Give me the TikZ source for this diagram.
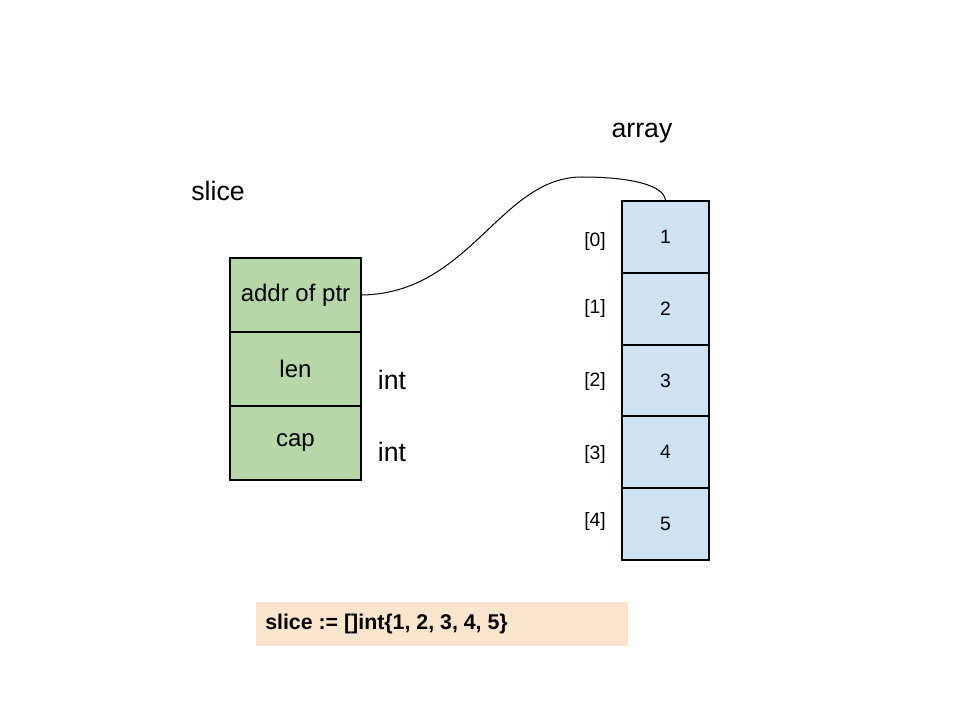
\documentclass[tikz,border=0pt]{standalone}
\usepackage{fontspec}
\setmainfont{Liberation Sans}
\definecolor{slicegreen}{HTML}{B6D7A8}
\definecolor{arrblue}{HTML}{CFE2F3}
\definecolor{codepeach}{HTML}{FCE5CD}
\begin{document}
\begin{tikzpicture}[x=0.75pt,y=-0.75pt,
  slicecell/.style={draw=black,line width=1.9pt,fill=slicegreen,minimum width={131*0.75pt},minimum height={74*0.75pt},inner sep=0pt,outer sep=0pt,font=\fontsize{18}{21}\selectfont,anchor=north west},
  arrcell/.style={draw=black,line width=1.4pt,fill=arrblue,minimum width={87*0.75pt},minimum height={72*0.75pt},inner sep=0pt,outer sep=0pt,font=\fontsize{14.5}{17}\selectfont,anchor=north west},
  idx/.style={font=\fontsize{14.5}{17}\selectfont},
  biglabel/.style={font=\fontsize{20}{24}\selectfont},
  link/.style={draw=black,line width=0.75pt}]
\useasboundingbox (0,0) rectangle (960,720);
% slice
\node[biglabel] (slicelbl) at (218,191) {slice};
\node[slicecell] (ptr) at (230,258) {addr of ptr};
\node[slicecell] (len) at (230,332) {len};
\node[slicecell] (cap) at (230,406) {cap};
\node[biglabel] (int1) at (392,380) {int};
\node[biglabel] (int2) at (392,452) {int};
% array
\node[biglabel] (arrlbl) at (642,133) {array};
\node[arrcell] (a0) at (622,201) {1};
\node[arrcell] (a1) at (622,273) {2};
\node[arrcell] (a2) at (622,345) {3};
\node[arrcell] (a3) at (622,416) {4};
\node[arrcell] (a4) at (622,488) {5};
\node[idx] (i0) at (595,242) {[0]};
\node[idx] (i1) at (595,309) {[1]};
\node[idx] (i2) at (595,382) {[2]};
\node[idx] (i3) at (595,454) {[3]};
\node[idx] (i4) at (595,521) {[4]};
% connector
\coordinate (peak) at (582,177);
\draw[link] (ptr.east) .. controls (470,294) and (500,177) .. (peak)
  .. controls (630,177) and (665,185) .. (a0.north);
% code
\node[fill=codepeach,minimum width={372*0.75pt},minimum height={44*0.75pt},anchor=north west,inner sep=0pt] (codebox) at (256,602) {};
\node[anchor=west,inner sep=0pt,font=\bfseries\fontsize{16}{19}\selectfont] (code) at (265,624) {slice := []int\{1, 2, 3, 4, 5\}};
\end{tikzpicture}
\end{document}
